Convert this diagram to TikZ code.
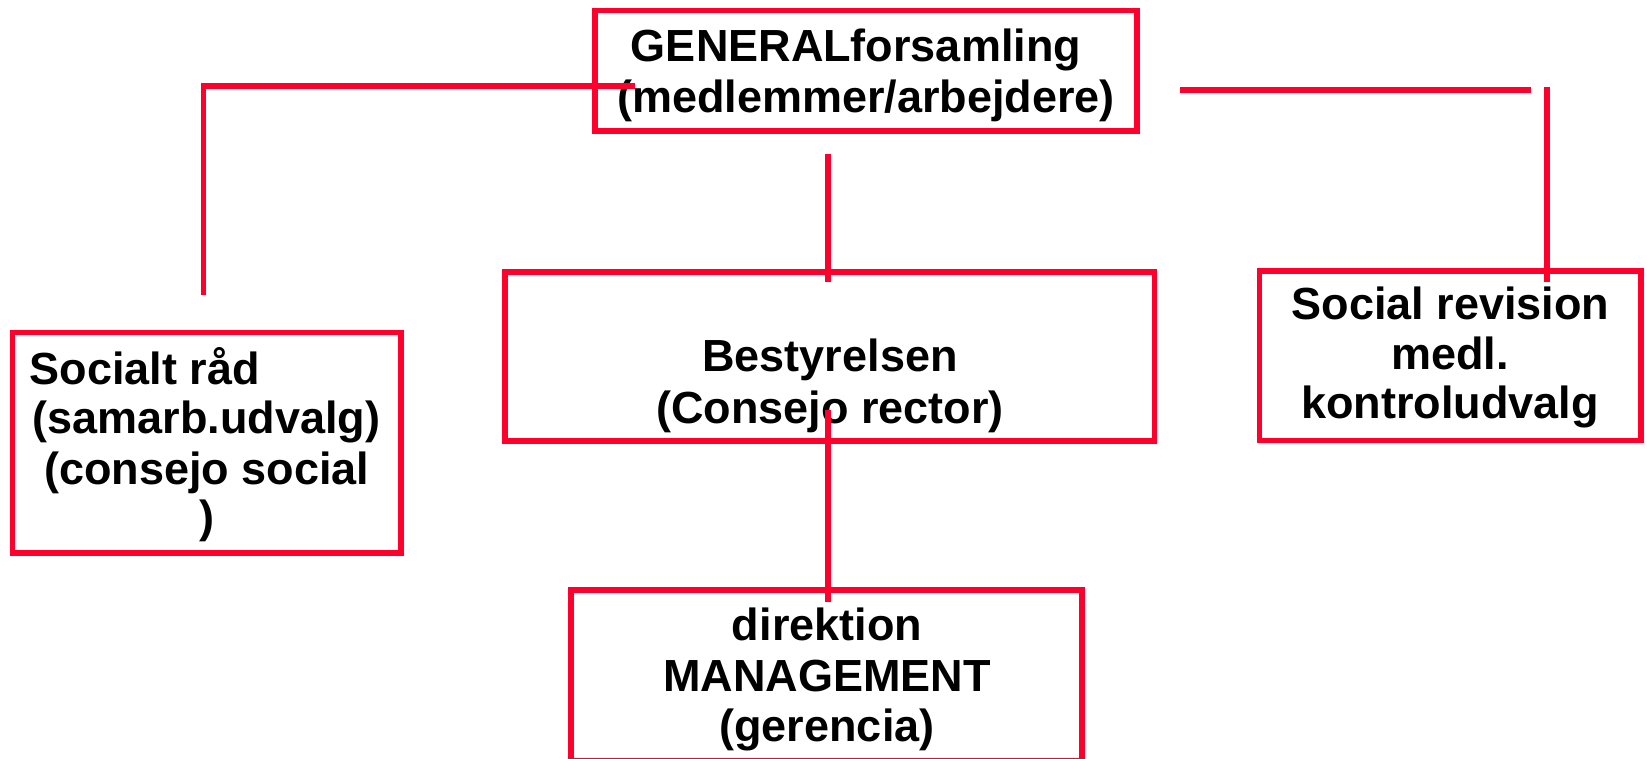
\documentclass[tikz,border=0pt]{standalone}
\usepackage{fontspec}
\setmainfont{Liberation Sans}
\definecolor{boxred}{RGB}{255,0,44}
\begin{document}
\begin{tikzpicture}[x=1pt,y=-1pt,
  box/.style={draw=boxred,line width=5.5pt,rectangle,inner sep=0pt,outer sep=0pt},
  conn/.style={draw=boxred,line width=5.2pt},
  txt/.style={inner sep=0pt,outer sep=0pt,anchor=base,font=\fontsize{45}{54}\selectfont\bfseries},
  txtl/.style={txt,anchor=base west}]
\useasboundingbox (0,0) rectangle (1647,759);
\clip (0,0) rectangle (1647,759);
% boxes
\node[box,minimum width=542pt,minimum height=120.5pt] (ga) at (866,70.75) {};
\node[box,minimum width=649.5pt,minimum height=169pt] (best) at (829.75,356.5) {};
\node[box,minimum width=388.5pt,minimum height=220.5pt] (soc) at (206.75,442.75) {};
\node[box,minimum width=381.5pt,minimum height=169.5pt] (rev) at (1450.25,355.75) {};
\node[box,minimum width=511pt,minimum height=170.5pt] (dir) at (826.5,675.25) {};
% texts
\node[txt] (ga1) at (856,61.5) {GENERALforsamling};
\node[txt] (ga2) at (866,112.8) {(medlemmer/arbejdere)};
\node[txt] (be1) at (830,371.7) {Bestyrelsen};
\node[txt] (be2) at (830,423) {(Consejo rector)};
\node[txtl] (so1) at (29.5,384.3) {Socialt råd};
\node[txt] (so2) at (206.5,433) {(samarb.udvalg)};
\node[txt] (so3) at (206.7,484) {(consejo social};
\node[txt] (so4) at (206.7,532) {)};
\node[txt] (re1) at (1450.5,320) {Social revision};
\node[txt] (re2) at (1450,370) {medl.};
\node[txt] (re3) at (1450,418) {kontroludvalg};
\node[txt] (di1) at (827,640) {direktion};
\node[txt] (di2) at (827,691) {MANAGEMENT};
\node[txt] (di3) at (827,741.7) {(gerencia)};
% connector end points
\coordinate (l1) at (635,86);
\coordinate (l2) at (203.4,86);
\coordinate (l3) at (203.4,295);
\coordinate (r1) at (1180,90);
\coordinate (r2) at (1531,90);
\coordinate (r3) at (1547,87.5);
\coordinate (r4) at (1547,282);
\coordinate (m1) at (828,154);
\coordinate (m2) at (828,282);
\coordinate (d1) at (828,410);
\coordinate (d2) at (828,602);
% connectors
\draw[conn] (l1) -- (l2) -- (l3);
\draw[conn] (r1) -- (r2);
\draw[conn] (r3) -- (r4);
\draw[conn] (m1) -- (m2);
\draw[conn] (d1) -- (d2);
\end{tikzpicture}
\end{document}
